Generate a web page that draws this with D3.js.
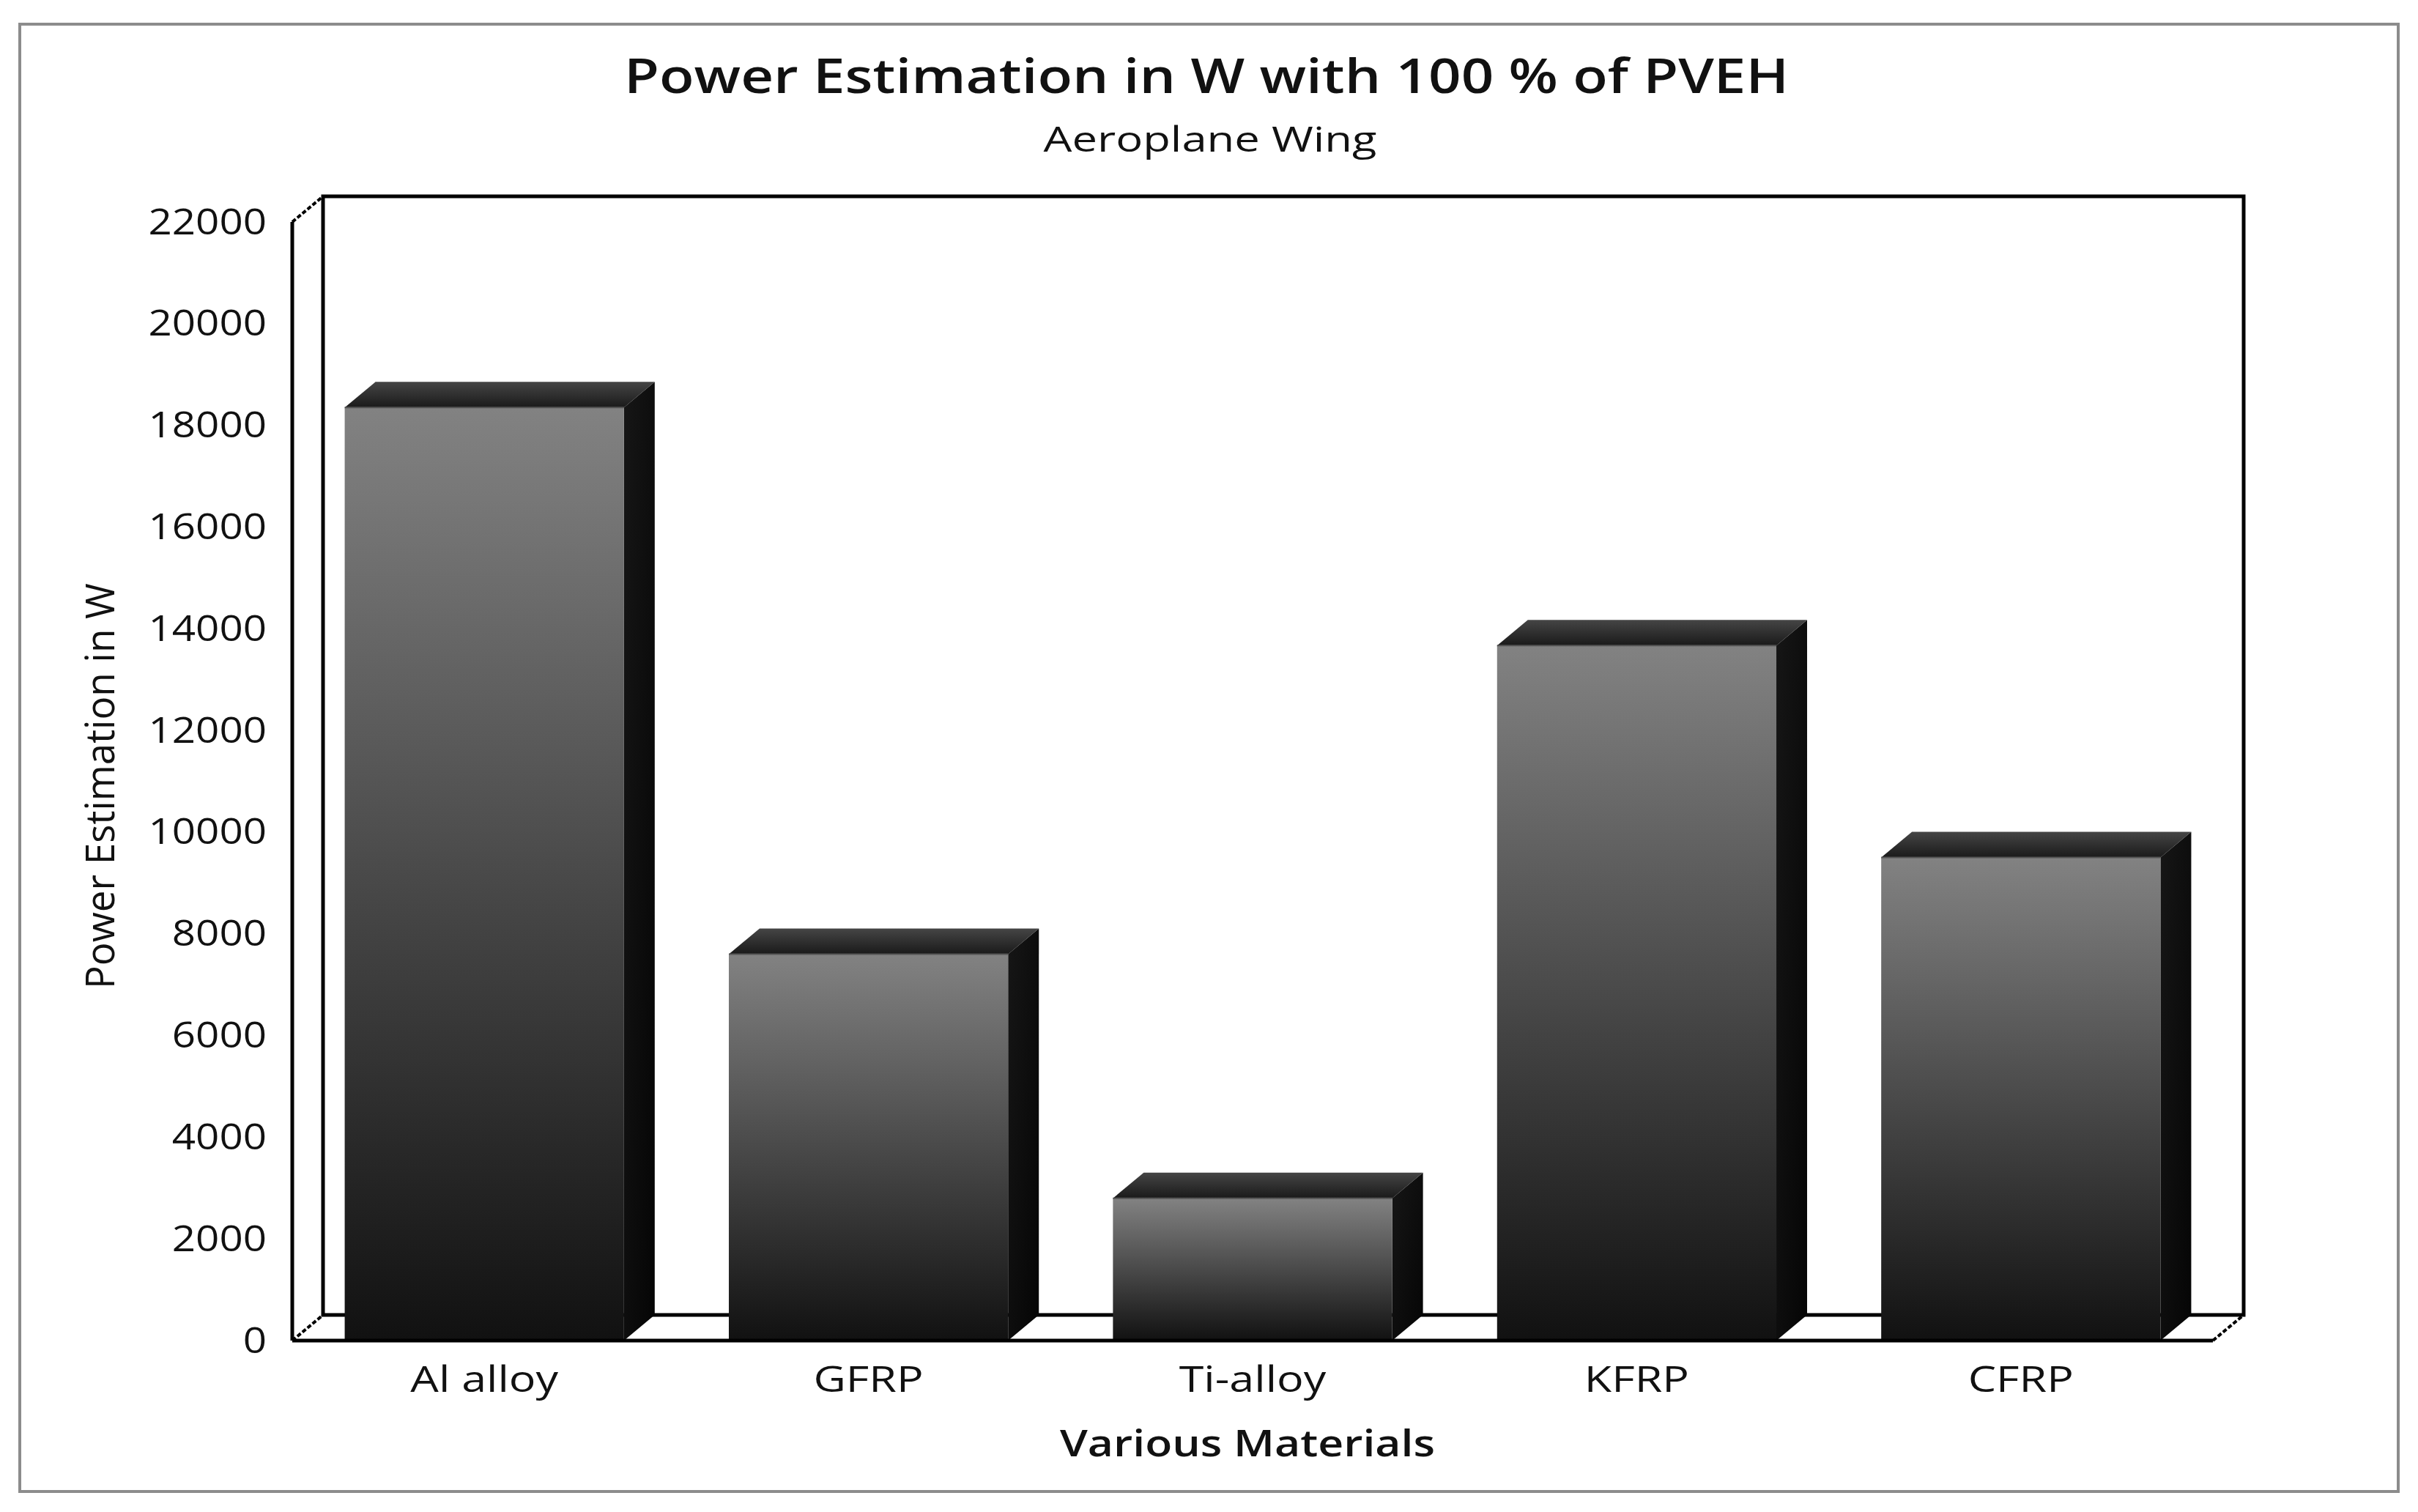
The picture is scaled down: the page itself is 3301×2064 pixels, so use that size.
<!DOCTYPE html>
<html><head><meta charset="utf-8">
<script src="https://cdn.jsdelivr.net/npm/d3@7"></script>
<style>html,body{margin:0;padding:0;background:#fff;}svg{display:block;}</style>
</head><body>
<script>
const categories = ["Al alloy", "GFRP", "Ti-alloy", "KFRP", "CFRP"];
const values = [18350, 7600, 2800, 13670, 9500];
const yTickValues = [0, 2000, 4000, 6000, 8000, 10000, 12000, 14000, 16000, 18000, 20000, 22000];
const titleText = "Power Estimation in W with 100 % of PVEH";
const subtitleText = "Aeroplane Wing";
const xTitle = "Various Materials";
const yTitle = "Power Estimation in W";

(function () {
const W = 3301, H = 2064;
const font = "'Open Sans', 'Noto Sans', sans-serif";
const svg = d3.select("body").append("svg").attr("width", W).attr("height", H);

function widen(sel, factor) {
  sel.each(function () {
    const len = this.getComputedTextLength();
    d3.select(this).attr("textLength", len * factor).attr("lengthAdjust", "spacingAndGlyphs");
  });
}

svg.append("rect").attr("x", 27).attr("y", 33).attr("width", 3247).attr("height", 2003)
  .attr("fill", "#fff").attr("stroke", "#8c8c8c").attr("stroke-width", 4);

const pLeft = 399, pRight = 3021, pBottom = 1830, pTop = 303;
const dx = 42, dy = 35;

const y = d3.scaleLinear().domain([0, 22000]).range([pBottom, pTop]);
const x = d3.scaleBand().domain(categories).range([pLeft, pRight]).paddingInner(0.273).paddingOuter(0.1365);

const defs = svg.append("defs");
const gFront = defs.append("linearGradient").attr("id", "gFront").attr("x1", 0).attr("y1", 0).attr("x2", 0).attr("y2", 1);
gFront.append("stop").attr("offset", "0%").attr("stop-color", "#828282");
gFront.append("stop").attr("offset", "100%").attr("stop-color", "#111111");
const gTop = defs.append("linearGradient").attr("id", "gTop").attr("x1", 0).attr("y1", 0).attr("x2", 0).attr("y2", 1);
gTop.append("stop").attr("offset", "0%").attr("stop-color", "#454545");
gTop.append("stop").attr("offset", "100%").attr("stop-color", "#1a1a1a");
const gSide = defs.append("linearGradient").attr("id", "gSide").attr("x1", 0).attr("y1", 0).attr("x2", 1).attr("y2", 1);
gSide.append("stop").attr("offset", "0%").attr("stop-color", "#161616");
gSide.append("stop").attr("offset", "100%").attr("stop-color", "#050505");

const frame = svg.append("g");
frame.append("rect").attr("x", pLeft + dx).attr("y", y(22000) - dy)
  .attr("width", pRight - pLeft).attr("height", y(0) - y(22000))
  .attr("fill", "#fff").attr("stroke", "#000").attr("stroke-width", 5);
frame.append("line").attr("x1", pLeft).attr("y1", y(22000)).attr("x2", pLeft).attr("y2", y(0))
  .attr("stroke", "#000").attr("stroke-width", 5);
[[pLeft, y(22000)], [pLeft, y(0)], [pRight, y(0)]].forEach(([px, py]) => {
  frame.append("line").attr("x1", px).attr("y1", py).attr("x2", px + dx).attr("y2", py - dy)
    .attr("stroke", "#000").attr("stroke-width", 4).attr("stroke-dasharray", "6,3");
});

const bars = svg.append("g").selectAll("g").data(categories.map((c, i) => ({c, v: values[i]}))).join("g");
bars.append("path").attr("fill", "url(#gSide)")
  .attr("d", d => {
    const xr = x(d.c) + x.bandwidth();
    return `M${xr},${y(d.v)} L${xr + dx},${y(d.v) - dy} L${xr + dx},${y(0) - dy} L${xr},${y(0)} Z`;
  });
bars.append("path").attr("fill", "url(#gTop)")
  .attr("d", d => {
    const xl = x(d.c), xr = xl + x.bandwidth(), yt = y(d.v);
    return `M${xl},${yt} L${xl + dx},${yt - dy} L${xr + dx},${yt - dy} L${xr},${yt} Z`;
  });
bars.append("rect").attr("fill", "url(#gFront)")
  .attr("x", d => x(d.c)).attr("y", d => y(d.v))
  .attr("width", x.bandwidth()).attr("height", d => y(0) - y(d.v));
bars.append("line").attr("stroke", "#555").attr("stroke-width", 2)
  .attr("x1", d => x(d.c)).attr("x2", d => x(d.c) + x.bandwidth())
  .attr("y1", d => y(d.v)).attr("y2", d => y(d.v));

svg.append("line").attr("x1", pLeft).attr("y1", y(0)).attr("x2", pRight).attr("y2", y(0))
  .attr("stroke", "#000").attr("stroke-width", 5);

const yAxis = svg.append("g").attr("transform", `translate(${pLeft},0)`)
  .call(d3.axisLeft(y).tickValues(yTickValues).tickSize(0).tickPadding(35).tickFormat(d3.format("d")));
yAxis.select(".domain").remove();
yAxis.selectAll("text").attr("font-family", font).attr("font-size", 50).attr("fill", "#111")
  .call(widen, 1.13);

const xAxis = svg.append("g").attr("transform", `translate(0,${y(0)})`)
  .call(d3.axisBottom(x).tickSize(0).tickPadding(34));
xAxis.select(".domain").remove();
xAxis.selectAll("text").attr("font-family", font).attr("font-size", 50).attr("fill", "#111")
  .call(widen, 1.22);

svg.append("text").attr("x", 1647).attr("y", 127).attr("text-anchor", "middle")
  .attr("font-family", font).attr("font-weight", 600).attr("font-size", 66).attr("fill", "#111")
  .attr("textLength", 1590).attr("lengthAdjust", "spacingAndGlyphs")
  .text(titleText);
svg.append("text").attr("x", 1652).attr("y", 207).attr("text-anchor", "middle")
  .attr("font-family", font).attr("font-size", 47).attr("fill", "#111")
  .attr("textLength", 455).attr("lengthAdjust", "spacingAndGlyphs")
  .text(subtitleText);
svg.append("text").attr("x", 1703).attr("y", 1988).attr("text-anchor", "middle")
  .attr("font-family", font).attr("font-weight", 600).attr("font-size", 51).attr("fill", "#111")
  .attr("textLength", 512).attr("lengthAdjust", "spacingAndGlyphs")
  .text(xTitle);
svg.append("text").attr("transform", "translate(156,1073) rotate(-90)").attr("text-anchor", "middle")
  .attr("font-family", font).attr("font-size", 54).attr("fill", "#111")
  .attr("textLength", 554).attr("lengthAdjust", "spacingAndGlyphs")
  .text(yTitle);
})();
</script>
</body></html>
